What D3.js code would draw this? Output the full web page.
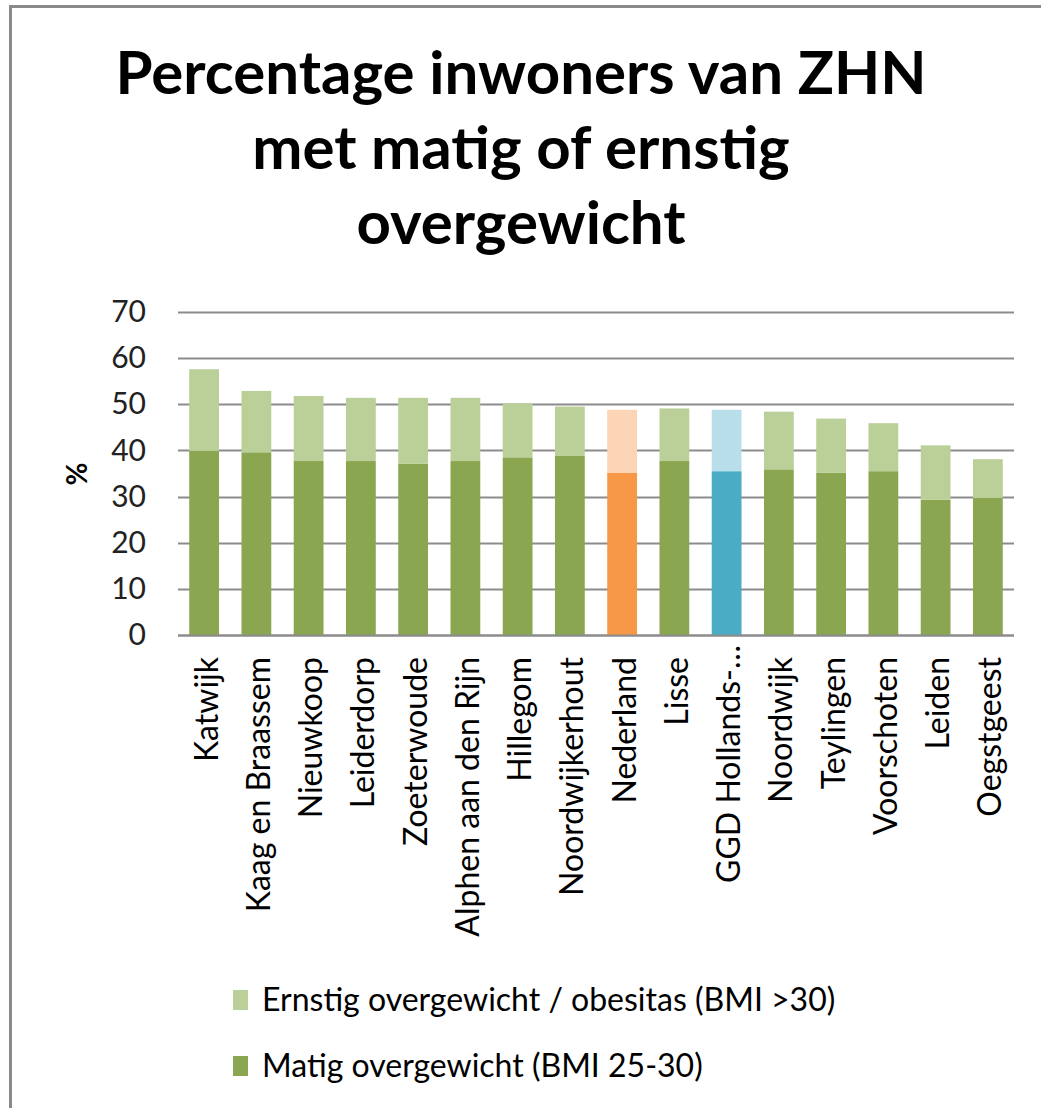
<!DOCTYPE html>
<html>
<head>
<meta charset="utf-8">
<script src="https://cdn.jsdelivr.net/npm/d3@7"></script>
<style>
  html, body { margin: 0; padding: 0; background: #fff; }
  svg { display: block; font-family: Lato, "Open Sans", sans-serif; }
</style>
</head>
<body>
<svg id="chart" width="1041" height="1108"></svg>
<script>
const titleLines = ["Percentage inwoners van ZHN", "met matig of ernstig", "overgewicht"];
const categories = ["Katwijk", "Kaag en Braassem", "Nieuwkoop", "Leiderdorp", "Zoeterwoude",
  "Alphen aan den Rijn", "Hillegom", "Noordwijkerhout", "Nederland", "Lisse",
  "GGD Hollands-…", "Noordwijk", "Teylingen", "Voorschoten", "Leiden", "Oegstgeest"];
const matig   = [39.9, 39.6, 37.7, 37.7, 37.1, 37.7, 38.5, 38.8, 35.2, 37.7, 35.5, 35.9, 35.2, 35.5, 29.3, 29.7];
const ernstig = [17.7, 13.3, 14.1, 13.7, 14.3, 13.7, 11.7, 10.7, 13.6, 11.4, 13.3, 12.5, 11.7, 10.4, 11.8, 8.4];
const groups  = ["g", "g", "g", "g", "g", "g", "g", "g", "nl", "g", "ggd", "g", "g", "g", "g", "g"];
const yTicks = [0, 10, 20, 30, 40, 50, 60, 70];
const seriesNames = ["Ernstig overgewicht / obesitas (BMI >30)", "Matig overgewicht (BMI 25-30)"];
const yLabel = "%";

const palette = {
  g:   { dark: "#8BA651", light: "#BBCF98" },
  nl:  { dark: "#F79849", light: "#FCD4B6" },
  ggd: { dark: "#4BACC6", light: "#B8DEE9" }
};

const svg = d3.select("#chart");

// frame
svg.append("path")
  .attr("d", "M10.5,1108 V6.5 H1041")
  .attr("fill", "none").attr("stroke", "#8a8a8a").attr("stroke-width", 3);

// title
svg.append("g").selectAll("text").data(titleLines).join("text")
  .attr("x", 521).attr("y", (d, i) => 94 + i * 75)
  .attr("text-anchor", "middle")
  .attr("font-weight", "bold").attr("font-size", 60).attr("fill", "#000")
  .text(d => d);

const x = d3.scaleBand().domain(categories).range([178, 1014]).paddingInner(0.43).paddingOuter(0.215);
const y = d3.scaleLinear().domain([0, 70]).range([635, 312]);

// gridlines
svg.append("g").selectAll("line").data(yTicks).join("line")
  .attr("x1", 178).attr("x2", 1014)
  .attr("y1", d => Math.round(y(d)) + 0.5).attr("y2", d => Math.round(y(d)) + 0.5)
  .attr("stroke", "#8c8c8c").attr("stroke-width", 2);

// y axis labels
const yAxis = d3.axisLeft(y).tickValues(yTicks).tickSize(0).tickPadding(0).tickFormat(d3.format("d"));
const ya = svg.append("g").attr("transform", "translate(146,0)").call(yAxis);
ya.select(".domain").remove();
ya.selectAll("text").attr("font-size", 30).attr("fill", "#222").attr("font-family", "Lato, sans-serif");

// y label
svg.append("text")
  .attr("transform", "translate(87,474) rotate(-90)")
  .attr("text-anchor", "middle")
  .attr("font-weight", "bold").attr("font-size", 28).attr("fill", "#000")
  .text(yLabel);

// bars
const data = categories.map((c, i) => ({ c, m: matig[i], e: ernstig[i], g: groups[i] }));
const bars = svg.append("g");
bars.selectAll("rect.m").data(data).join("rect").attr("class", "m")
  .attr("x", d => x(d.c)).attr("width", x.bandwidth())
  .attr("y", d => y(d.m)).attr("height", d => y(0) - y(d.m))
  .attr("fill", d => palette[d.g].dark);
bars.selectAll("rect.e").data(data).join("rect").attr("class", "e")
  .attr("x", d => x(d.c)).attr("width", x.bandwidth())
  .attr("y", d => y(d.m + d.e)).attr("height", d => y(d.m) - y(d.m + d.e))
  .attr("fill", d => palette[d.g].light);

// baseline redraw on top
svg.append("line")
  .attr("x1", 178).attr("x2", 1014)
  .attr("y1", Math.round(y(0)) + 0.5).attr("y2", Math.round(y(0)) + 0.5)
  .attr("stroke", "#8c8c8c").attr("stroke-width", 2);

// category labels
svg.append("g").selectAll("text").data(categories).join("text")
  .attr("transform", d => `translate(${x(d) + x.bandwidth() / 2 + 2},${d.endsWith("…") ? 645 : 657}) rotate(-90)`)
  .attr("text-anchor", "end").attr("dy", "0.36em")
  .attr("font-size", 32).attr("fill", "#000")
  .text(d => d);

// legend
const legendColors = [palette.g.light, palette.g.dark];
const lg = svg.append("g").selectAll("g").data(seriesNames).join("g")
  .attr("transform", (d, i) => `translate(233,${990 + i * 66})`);
lg.append("rect").attr("width", 15).attr("height", 20).attr("fill", (d, i) => legendColors[i]);
lg.append("text").attr("x", 29).attr("y", 21)
  .attr("font-size", 32).attr("fill", "#000")
  .text(d => d);
</script>
</body>
</html>
